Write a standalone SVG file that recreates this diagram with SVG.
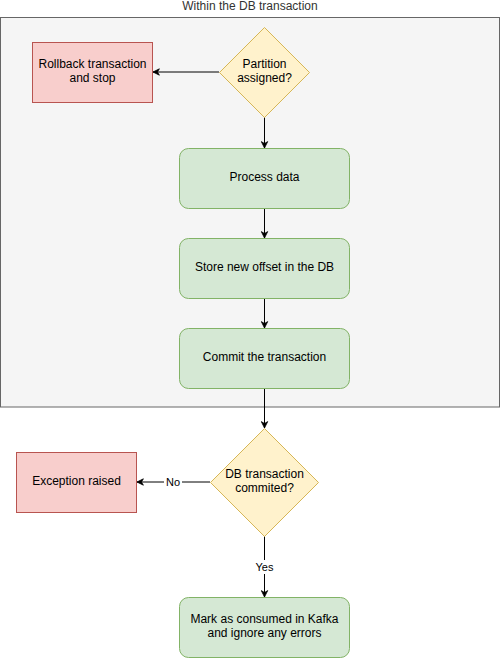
<svg xmlns="http://www.w3.org/2000/svg" width="500" height="658" viewBox="0 0 500 658">
<style>
text{font-family:"Liberation Sans",Arial,sans-serif;font-size:12px;fill:#000;text-anchor:middle;dominant-baseline:central}
.g{fill:#d5e8d4;stroke:#82b366}
.r{fill:#f8cecc;stroke:#b85450}
.y{fill:#fff2cc;stroke:#d6b656}
.e{stroke:#000;stroke-width:1;fill:none;marker-end:url(#a)}
.lb{font-size:11px}
</style>
<defs>
<marker id="a" viewBox="0 0 10 10" refX="9" refY="5" markerWidth="8" markerHeight="8" markerUnits="userSpaceOnUse" orient="auto"><path d="M1,1 L9,5 L1,9 L3.5,5 Z" fill="#000" stroke="#000"/></marker>
</defs>
<g id="container">
<rect x="0.5" y="17.5" width="499" height="389.5" fill="#f5f5f5" stroke="#666"/>
<text x="250" y="6" style="fill:#333">Within the DB transaction</text>
</g>
<g id="edges">
<path class="e" d="M219,72 H153"/>
<path class="e" d="M264.5,117 V148"/>
<path class="e" d="M264.5,208 V238"/>
<path class="e" d="M264.5,298 V328"/>
<path class="e" d="M264.5,388 V428"/>
<path class="e" d="M210,482 H137"/>
<path class="e" d="M264.5,536 V597"/>
<rect x="164" y="475" width="18" height="14" fill="#fff"/>
<text class="lb" x="173" y="482">No</text>
<rect x="253" y="560" width="23" height="14" fill="#fff"/>
<text class="lb" x="264.5" y="567">Yes</text>
</g>
<g id="rollback">
<rect class="r" x="32.5" y="42.5" width="120" height="60"/>
<text x="92.5" y="64">Rollback transaction</text>
<text x="92.5" y="78">and stop</text>
</g>
<g id="partition">
<path class="y" d="M264.5,27.5 L309.5,72.5 L264.5,117.5 L219.5,72.5 Z"/>
<text x="264.5" y="64">Partition</text>
<text x="264.5" y="78">assigned?</text>
</g>
<g id="process">
<rect class="g" x="179.5" y="148.5" width="170" height="60" rx="9"/>
<text x="264.5" y="176.5">Process data</text>
</g>
<g id="store">
<rect class="g" x="179.5" y="238.5" width="170" height="60" rx="9"/>
<text x="264.5" y="266.5">Store new offset in the DB</text>
</g>
<g id="commit">
<rect class="g" x="179.5" y="328.5" width="170" height="60" rx="9"/>
<text x="264.5" y="356.5">Commit the transaction</text>
</g>
<g id="committed">
<path class="y" d="M264.5,428.5 L318.5,482.5 L264.5,536.5 L210.5,482.5 Z"/>
<text x="264.5" y="474">DB transaction</text>
<text x="264.5" y="488">commited?</text>
</g>
<g id="exception">
<rect class="r" x="16.5" y="452.5" width="120" height="60"/>
<text x="76.5" y="481">Exception raised</text>
</g>
<g id="mark">
<rect class="g" x="179.5" y="597.5" width="170" height="60" rx="9"/>
<text x="264.5" y="619">Mark as consumed in Kafka</text>
<text x="264.5" y="633">and ignore any errors</text>
</g>
</svg>
